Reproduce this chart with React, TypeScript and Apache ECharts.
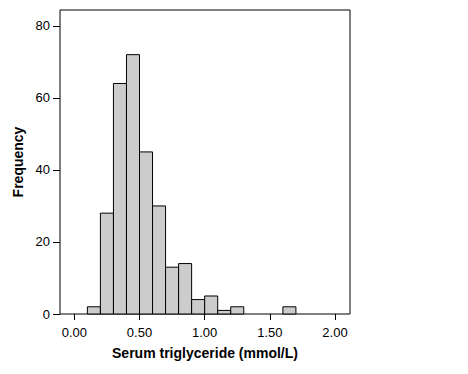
import React, { useEffect, useRef } from "react";
import * as echarts from "echarts";

const binStarts = [0.1, 0.2, 0.3, 0.4, 0.5, 0.6, 0.7, 0.8, 0.9, 1.0, 1.1, 1.2, 1.6];
const binWidth = 0.1;
const counts = [2, 28, 64, 72, 45, 30, 13, 14, 4, 5, 1, 2, 2];
const xTicks = [0, 0.5, 1, 1.5, 2];
const yTicks = [0, 20, 40, 60, 80];

export default function App() {
  const ref = useRef<HTMLDivElement>(null);
  useEffect(() => {
    if (!ref.current) return;
    const chart = echarts.init(ref.current, null, { renderer: "svg" });
    const font = "Arial, 'Liberation Sans', sans-serif";
    chart.setOption({
      animation: false,
      backgroundColor: "#fff",
      grid: {
        left: 60,
        top: 10,
        width: 290,
        height: 304,
        show: true,
        borderColor: "#000",
        borderWidth: 1,
        backgroundColor: "#fff",
        containLabel: false,
      },
      xAxis: {
        type: "value",
        min: -0.11,
        max: 2.115,
        name: "Serum triglyceride (mmol/L)",
        nameLocation: "middle",
        nameGap: 32,
        nameTextStyle: { color: "#000", fontFamily: font, fontSize: 14, fontWeight: "bold" },
        axisLine: { show: false, onZero: false },
        splitLine: { show: false },
        axisTick: { show: true, inside: false, length: 6, lineStyle: { color: "#000", width: 1 }, customValues: xTicks },
        axisLabel: {
          color: "#000",
          fontFamily: font,
          fontSize: 13,
          margin: 12,
          customValues: xTicks,
          formatter: (v: number) => v.toFixed(2),
        },
      },
      yAxis: {
        type: "value",
        min: 0,
        max: 84.4,
        name: "Frequency",
        nameLocation: "middle",
        nameGap: 26,
        nameRotate: 90,
        nameTextStyle: { color: "#000", fontFamily: font, fontSize: 14, fontWeight: "bold" },
        axisLine: { show: false, onZero: false },
        splitLine: { show: false },
        axisTick: { show: true, inside: false, length: 7, lineStyle: { color: "#000", width: 1 }, customValues: yTicks },
        axisLabel: {
          color: "#000",
          fontFamily: font,
          fontSize: 13,
          margin: 10,
          customValues: yTicks,
        },
      },
      series: [
        {
          type: "custom",
          data: binStarts.map((s, i) => [s, s + binWidth, counts[i]]),
          encode: { x: [0, 1], y: 2 },
          renderItem: (params: any, api: any) => {
            const x0 = api.value(0);
            const x1 = api.value(1);
            const c = api.value(2);
            const p0 = api.coord([x0, c]);
            const p1 = api.coord([x1, 0]);
            return {
              type: "rect",
              shape: { x: p0[0], y: p0[1], width: p1[0] - p0[0], height: p1[1] - p0[1] },
              style: { fill: "#cccccc", stroke: "#000", lineWidth: 1 },
            };
          },
        },
      ],
    });
    return () => chart.dispose();
  }, []);
  return (
    <div
      ref={ref}
      style={{ position: "fixed", left: 0, top: 0, width: 468, height: 374 }}
    />
  );
}
